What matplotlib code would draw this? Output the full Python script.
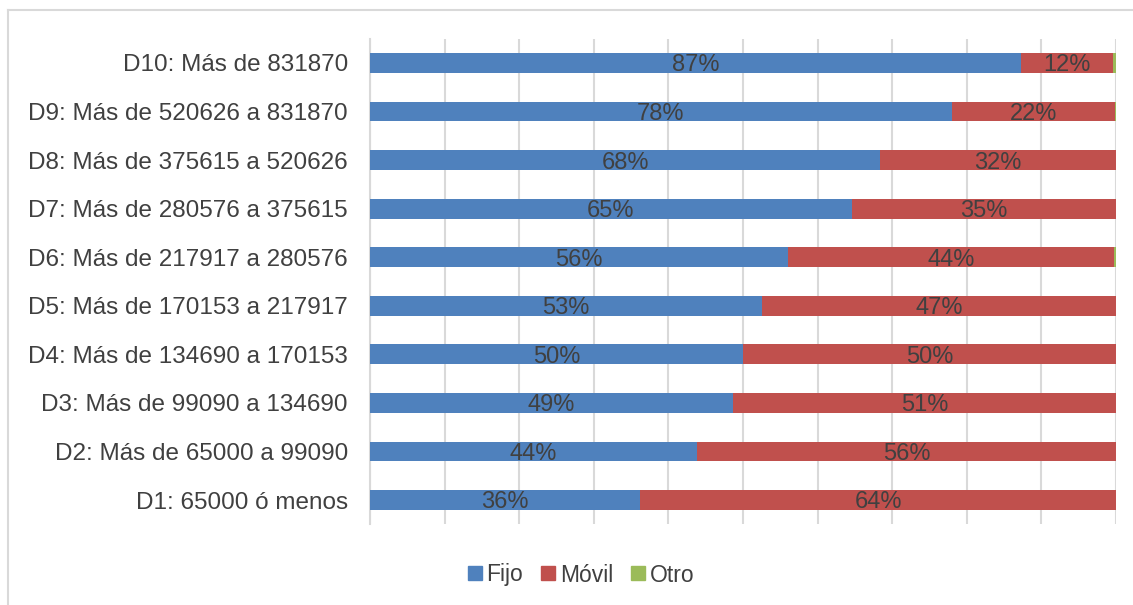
#!/usr/bin/env python3
import numpy as np
import matplotlib.pyplot as plt
from matplotlib.lines import Line2D

plt.rcParams['font.family'] = ['Liberation Sans', 'DejaVu Sans']

categories = [
    'D1: 65000 ó menos',
    'D2: Más de 65000 a 99090',
    'D3: Más de 99090 a 134690',
    'D4: Más de 134690 a 170153',
    'D5: Más de 170153 a 217917',
    'D6: Más de 217917 a 280576',
    'D7: Más de 280576 a 375615',
    'D8: Más de 375615 a 520626',
    'D9: Más de 520626 a 831870',
    'D10: Más de 831870',
]
fijo = [36.2, 43.8, 48.7, 50.0, 52.6, 56.0, 64.6, 68.4, 78.0, 87.3]
otro = [0.0, 0.0, 0.0, 0.0, 0.0, 0.3, 0.0, 0.0, 0.2, 0.4]
movil = [100 - f - o for f, o in zip(fijo, otro)]

series = [('Fijo', fijo, '#4f81bd'), ('Móvil', movil, '#c0504d'), ('Otro', otro, '#9bbb59')]


def main():
    fig = plt.figure(figsize=(11.33, 6.05), dpi=100)
    ax = fig.add_axes([370 / 1133, 1 - 524.3 / 605, 746 / 1133, 485.6 / 605])

    y = np.arange(len(categories))
    left = np.zeros(len(categories))
    for name, vals, color in series:
        vals = np.array(vals)
        ax.barh(y, vals, left=left, height=0.41, color=color, label=name, zorder=3)
        if name != 'Otro':
            for yi, l, v in zip(y, left, vals):
                ax.text(l + v / 2, yi - 0.05, f'{round(v):d}%', ha='center', va='center',
                        fontsize=17, color='#404040', zorder=4)
        left += vals

    ax.set_xlim(0, 100)
    ax.set_ylim(-0.5, 9.5)
    ax.set_xticks(np.arange(0, 101, 10))
    ax.set_xticklabels([])
    ax.tick_params(axis='x', length=0)
    ax.set_yticks(y)
    ax.set_yticklabels(categories, fontsize=17.5, color='#404040')
    ax.tick_params(axis='y', length=0, pad=16)
    ax.grid(axis='x', color='#d9d9d9', linewidth=1.5, zorder=0)
    for s in ['top', 'right', 'bottom']:
        ax.spines[s].set_visible(False)
    ax.spines['left'].set_color('#d9d9d9')
    ax.spines['left'].set_linewidth(1.5)

    handles = [Line2D([], [], marker='s', linestyle='none', markersize=10,
                      color=c, label=n) for n, _, c in series]
    fig.legend(handles=handles, loc='center', bbox_to_anchor=(0.511, 1 - 575 / 605),
               ncol=3, frameon=False, fontsize=16.5, handletextpad=0.0,
               columnspacing=0.6, handlelength=1.0, labelcolor='#404040')

    # chart border (only top and left visible)
    fig.add_artist(Line2D([8 / 1133, 8 / 1133], [0, 1 - 10 / 605],
                          color='#d9d9d9', linewidth=1.5))
    fig.add_artist(Line2D([8 / 1133, 1], [1 - 10 / 605, 1 - 10 / 605],
                          color='#d9d9d9', linewidth=1.5))

    plt.savefig('out.png', dpi=100)


if __name__ == '__main__':
    main()
